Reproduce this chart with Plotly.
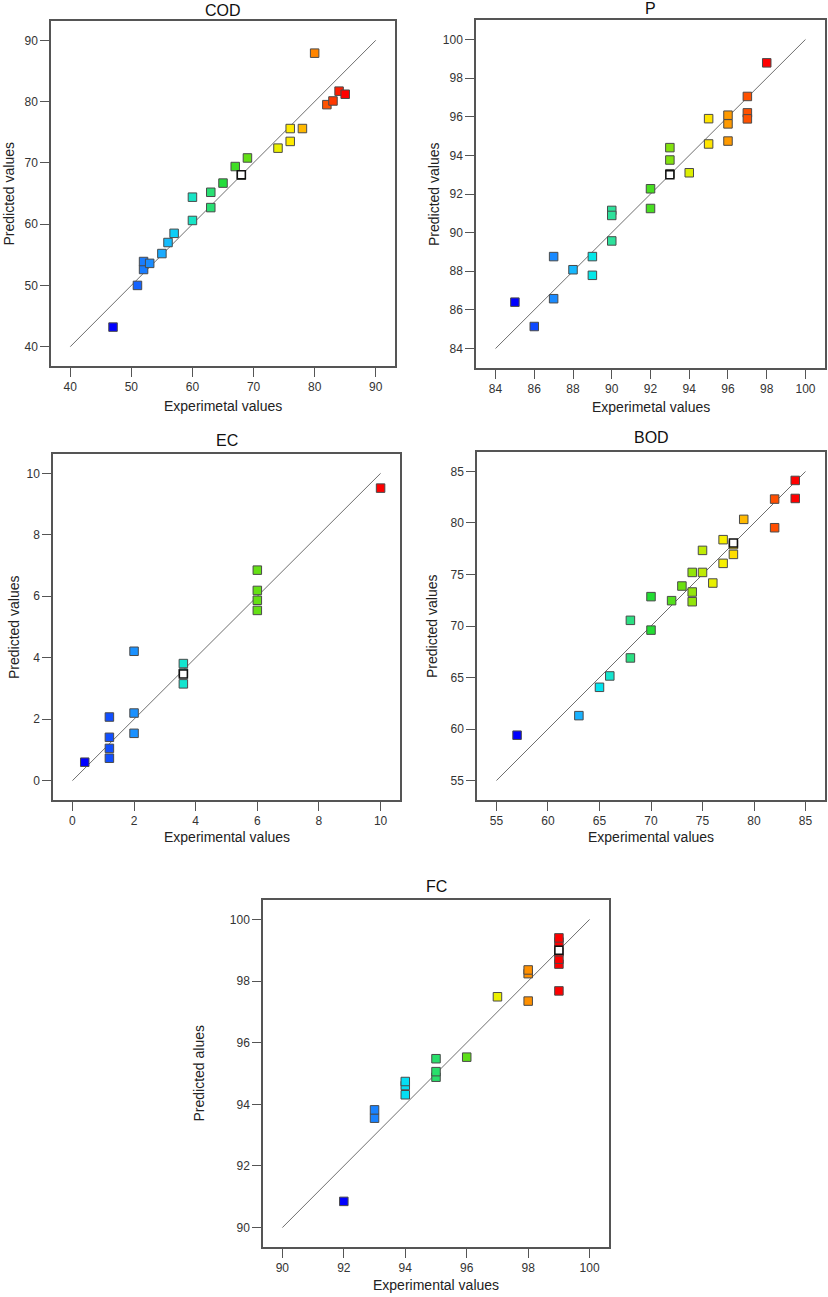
import plotly.graph_objects as go

W, H = 828, 1297

# ---------------- data ----------------
cod_exp = [47, 51, 52, 52, 53, 55, 56, 57, 60, 60, 63, 63, 65, 67, 68, 69, 74, 76, 76, 78, 80, 82, 83, 84, 85]
cod_pred = [43.2, 50.0, 52.6, 53.9, 53.6, 55.2, 57.0, 58.5, 60.6, 64.4, 62.7, 65.2, 66.7, 69.4, 68.0, 70.8, 72.4, 75.6, 73.5, 75.6, 87.9, 79.5, 80.1, 81.7, 81.2]
cod_center = ([68], [68.05])

p_exp = [85, 86, 87, 87, 88, 89, 89, 90, 90, 90, 92, 92, 93, 93, 93, 94, 95, 95, 96, 96, 96, 97, 97, 97, 98]
p_pred = [86.4, 85.14, 88.76, 86.58, 88.08, 88.76, 87.79, 91.15, 90.89, 89.57, 92.27, 91.25, 94.4, 93.76, 93.05, 93.1, 95.9, 94.59, 96.08, 95.63, 94.74, 97.05, 96.2, 95.89, 98.79]
p_center = ([93], [93.0])

ec_exp = [0.4, 1.2, 1.2, 1.2, 1.2, 2.0, 2.0, 2.0, 3.6, 3.6, 3.6, 6.0, 6.0, 6.0, 6.0, 10.0]
ec_pred = [0.60, 0.73, 1.05, 1.41, 2.07, 1.54, 2.20, 4.21, 3.15, 3.50, 3.81, 5.54, 5.87, 6.19, 6.85, 9.52]
ec_center = ([3.6], [3.47])

bod_exp = [57, 63, 65, 66, 68, 68, 70, 70, 72, 73, 74, 74, 74, 75, 75, 76, 77, 77, 78, 78, 79, 82, 82, 84, 84]
bod_pred = [59.4, 61.3, 64.05, 65.15, 66.9, 70.55, 69.6, 72.85, 72.46, 73.88, 72.36, 73.3, 75.2, 75.2, 77.34, 74.17, 76.08, 78.38, 76.95, 77.9, 80.35, 79.54, 82.32, 82.38, 84.13]
bod_center = ([78], [78.05])

fc_exp = [92, 93, 93, 94, 94, 94, 95, 95, 95, 96, 97, 98, 98, 98, 99, 99, 99, 99, 99, 99]
fc_pred = [90.85, 93.55, 93.82, 94.31, 94.61, 94.74, 94.88, 95.06, 95.48, 95.53, 97.49, 97.35, 98.24, 98.36, 97.68, 98.55, 98.71, 98.95, 99.27, 99.4]
fc_center = ([99], [99.0])

panels = [
    dict(name="COD", x=cod_exp, y=cod_pred, c=cod_center, lo=40, hi=90, dt=10,
         xt="Experimetal values", yt="Predicted values",
         box=(51, 395, 21, 366), ttl_y=10, xt_y=406, yt_x=8),
    dict(name="P", x=p_exp, y=p_pred, c=p_center, lo=84, hi=100, dt=2,
         xt="Experimetal values", yt="Predicted values",
         box=(476, 825, 20, 368), ttl_y=8, xt_y=407, yt_x=434),
    dict(name="EC", x=ec_exp, y=ec_pred, c=ec_center, lo=0, hi=10, dt=2,
         xt="Experimental values", yt="Predicted values",
         box=(53, 400, 454, 800), ttl_y=440, xt_y=837, yt_x=14),
    dict(name="BOD", x=bod_exp, y=bod_pred, c=bod_center, lo=55, hi=85, dt=5,
         xt="Experimental values", yt="Predicted values",
         box=(477, 825, 452, 800), ttl_y=437, xt_y=837, yt_x=432),
    dict(name="FC", x=fc_exp, y=fc_pred, c=fc_center, lo=90, hi=100, dt=2,
         xt="Experimental values", yt="Predicted alues",
         box=(263, 609, 900, 1247), ttl_y=886, xt_y=1285, yt_x=198),
]

cscale = [[0, '#0000ff'], [0.13, '#1a7cff'], [0.22, '#1ab0ff'], [0.3, '#00e8f0'],
          [0.38, '#2ee0a0'], [0.48, '#22dd33'], [0.6, '#70e010'], [0.7, '#e6f000'],
          [0.76, '#ffee00'], [0.84, '#ffa000'], [0.93, '#ff4a00'], [1, '#ff0000']]

fig = go.Figure()
annotations = []
tickfont = dict(family="Liberation Sans Narrow, Arial Narrow, Liberation Sans", size=12, color="#333")

for i, p in enumerate(panels, start=1):
    xl, xr, yt, yb = p["box"]
    span = p["hi"] - p["lo"]
    pad = span * 0.063
    rng = [p["lo"] - pad, p["hi"] + pad]
    xa = "x" if i == 1 else f"x{i}"
    ya = "y" if i == 1 else f"y{i}"
    axkw = dict(range=rng, showgrid=False, zeroline=False, showline=True, mirror=True,
                linecolor="#555", linewidth=1.5, ticks="outside", ticklen=9, tickwidth=1,
                tickcolor="#555", tickfont=tickfont, dtick=p["dt"], tick0=p["lo"])
    fig.update_layout(**{
        ("xaxis" if i == 1 else f"xaxis{i}"): dict(domain=[xl / W, xr / W], anchor=ya, **axkw),
        ("yaxis" if i == 1 else f"yaxis{i}"): dict(domain=[1 - yb / H, 1 - yt / H], anchor=xa, **axkw),
    })
    fig.add_trace(go.Scatter(x=[p["lo"], p["hi"]], y=[p["lo"], p["hi"]], mode="lines",
                             line=dict(color="#6e6e6e", width=1), xaxis=xa, yaxis=ya,
                             showlegend=False, hoverinfo="skip"))
    fig.add_trace(go.Scatter(x=p["x"], y=p["y"], mode="markers",
                             marker=dict(symbol="square", size=8.5, color=p["x"],
                                         colorscale=cscale, cmin=min(p["x"]), cmax=max(p["x"]),
                                         line=dict(color="#4a4a4a", width=1)),
                             xaxis=xa, yaxis=ya, showlegend=False))
    fig.add_trace(go.Scatter(x=p["c"][0], y=p["c"][1], mode="markers",
                             marker=dict(symbol="square", size=8, color="white",
                                         line=dict(color="#111", width=1.5)),
                             xaxis=xa, yaxis=ya, showlegend=False))
    cx = (xl + xr) / 2 / W
    annotations.append(dict(text=p["name"], x=cx, y=1 - p["ttl_y"] / H, xref="paper", yref="paper",
                            showarrow=False, xanchor="center", yanchor="middle",
                            font=dict(family="Liberation Sans, Arial", size=16, color="#111")))
    annotations.append(dict(text=p["xt"], x=cx, y=1 - p["xt_y"] / H, xref="paper", yref="paper",
                            showarrow=False, xanchor="center", yanchor="middle",
                            font=dict(family="Liberation Sans, Arial", size=14, color="#222")))
    annotations.append(dict(text=p["yt"], x=p["yt_x"] / W, y=1 - (yt + yb) / 2 / H, xref="paper", yref="paper",
                            showarrow=False, xanchor="center", yanchor="middle", textangle=-90,
                            font=dict(family="Liberation Sans, Arial", size=14, color="#222")))

fig.update_layout(width=W, height=H, margin=dict(l=0, r=0, t=0, b=0),
                  paper_bgcolor="white", plot_bgcolor="white", annotations=annotations)

fig.write_html("out.html", config={"displayModeBar": False},
               post_script="document.body.style.margin='0';document.body.style.overflow='hidden';")
